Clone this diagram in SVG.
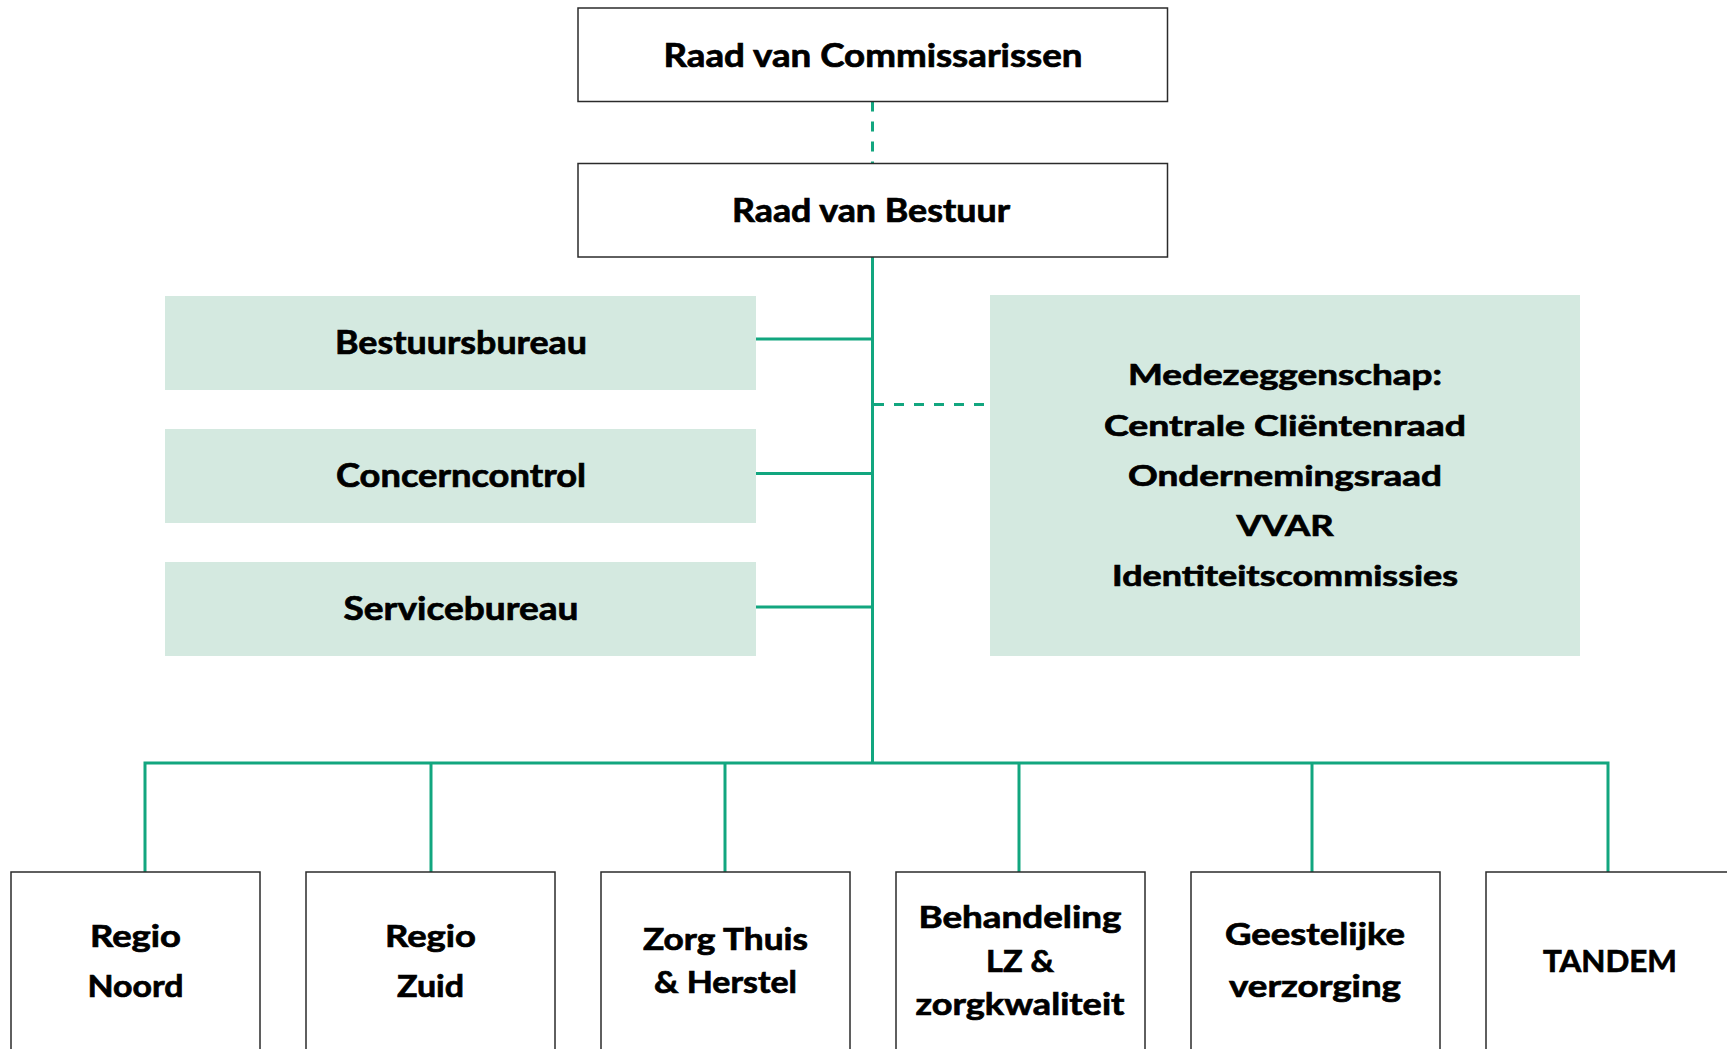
<svg xmlns="http://www.w3.org/2000/svg" width="1727" height="1049" viewBox="0 0 1727 1049">
<style>
.bx{fill:#ffffff;stroke:#2b2b2b;stroke-width:1.5}
.gb{fill:#d4e9e0}
.t{font-family:Lato,"Liberation Sans",sans-serif;font-weight:700;fill:#000;stroke:#000;stroke-width:0.7;text-anchor:middle}
.ln{stroke:#12a67f;stroke-width:3;fill:none}
.ds{stroke:#12a67f;stroke-width:3;fill:none;stroke-dasharray:10 10}
</style>
<rect width="1727" height="1049" fill="#ffffff"/>
<g id="connectors">
<line class="ds" x1="872.5" y1="101.5" x2="872.5" y2="163"/>
<line class="ln" x1="872.5" y1="257" x2="872.5" y2="763"/>
<line class="ln" x1="756" y1="339" x2="872.5" y2="339"/>
<line class="ln" x1="756" y1="473.5" x2="872.5" y2="473.5"/>
<line class="ln" x1="756" y1="607" x2="872.5" y2="607"/>
<line class="ds" x1="874" y1="404.5" x2="990" y2="404.5"/>
<polyline class="ln" points="145,872 145,763 1608,763 1608,872"/>
<line class="ln" x1="431" y1="763" x2="431" y2="872"/>
<line class="ln" x1="725" y1="763" x2="725" y2="872"/>
<line class="ln" x1="1019" y1="763" x2="1019" y2="872"/>
<line class="ln" x1="1312" y1="763" x2="1312" y2="872"/>
</g>
<g id="raad-van-commissarissen">
<rect class="bx" x="578" y="8" width="589.5" height="93.5"/>
<text class="t" x="873" y="67" font-size="32.5" textLength="419" lengthAdjust="spacingAndGlyphs">Raad van Commissarissen</text>
</g>
<g id="raad-van-bestuur">
<rect class="bx" x="578" y="163.5" width="589.5" height="93.5"/>
<text class="t" x="871" y="222" font-size="32.5" textLength="278" lengthAdjust="spacingAndGlyphs">Raad van Bestuur</text>
</g>
<g id="bestuursbureau">
<rect class="gb" x="165" y="296" width="591" height="94"/>
<text class="t" x="461" y="354" font-size="33" textLength="252" lengthAdjust="spacingAndGlyphs">Bestuursbureau</text>
</g>
<g id="concerncontrol">
<rect class="gb" x="165" y="429" width="591" height="94"/>
<text class="t" x="461" y="487" font-size="33" textLength="250" lengthAdjust="spacingAndGlyphs">Concerncontrol</text>
</g>
<g id="servicebureau">
<rect class="gb" x="165" y="562" width="591" height="94"/>
<text class="t" x="461" y="620" font-size="33" textLength="235" lengthAdjust="spacingAndGlyphs">Servicebureau</text>
</g>
<g id="medezeggenschap">
<rect class="gb" x="990" y="295" width="590" height="361"/>
<text class="t" x="1285" y="385" font-size="29" textLength="314" lengthAdjust="spacingAndGlyphs">Medezeggenschap:</text>
<text class="t" x="1285" y="436" font-size="29" textLength="362" lengthAdjust="spacingAndGlyphs">Centrale Cliëntenraad</text>
<text class="t" x="1285" y="486" font-size="29" textLength="314" lengthAdjust="spacingAndGlyphs">Ondernemingsraad</text>
<text class="t" x="1285" y="536" font-size="29" textLength="97" lengthAdjust="spacingAndGlyphs">VVAR</text>
<text class="t" x="1285" y="586" font-size="29" textLength="346" lengthAdjust="spacingAndGlyphs">Identiteitscommissies</text>
</g>
<g id="regio-noord">
<rect class="bx" x="11" y="872" width="249" height="200"/>
<text class="t" x="135.5" y="947" font-size="31" textLength="91" lengthAdjust="spacingAndGlyphs">Regio</text>
<text class="t" x="135.5" y="997" font-size="31" textLength="96" lengthAdjust="spacingAndGlyphs">Noord</text>
</g>
<g id="regio-zuid">
<rect class="bx" x="306" y="872" width="249" height="200"/>
<text class="t" x="430.5" y="947" font-size="31" textLength="91" lengthAdjust="spacingAndGlyphs">Regio</text>
<text class="t" x="430.5" y="997" font-size="31" textLength="67" lengthAdjust="spacingAndGlyphs">Zuid</text>
</g>
<g id="zorg-thuis-herstel">
<rect class="bx" x="601" y="872" width="249" height="200"/>
<text class="t" x="725.5" y="950" font-size="31" textLength="165" lengthAdjust="spacingAndGlyphs">Zorg Thuis</text>
<text class="t" x="725.5" y="993" font-size="31" textLength="143" lengthAdjust="spacingAndGlyphs">&amp; Herstel</text>
</g>
<g id="behandeling-lz-zorgkwaliteit">
<rect class="bx" x="896" y="872" width="249" height="200"/>
<text class="t" x="1020" y="928" font-size="31" textLength="203" lengthAdjust="spacingAndGlyphs">Behandeling</text>
<text class="t" x="1020" y="972" font-size="31" textLength="68" lengthAdjust="spacingAndGlyphs">LZ &amp;</text>
<text class="t" x="1020" y="1015" font-size="31" textLength="209" lengthAdjust="spacingAndGlyphs">zorgkwaliteit</text>
</g>
<g id="geestelijke-verzorging">
<rect class="bx" x="1191" y="872" width="249" height="200"/>
<text class="t" x="1315" y="945" font-size="31" textLength="180" lengthAdjust="spacingAndGlyphs">Geestelijke</text>
<text class="t" x="1315" y="997" font-size="31" textLength="172" lengthAdjust="spacingAndGlyphs">verzorging</text>
</g>
<g id="tandem">
<rect class="bx" x="1486" y="872" width="249" height="200"/>
<text class="t" x="1610" y="972" font-size="31" textLength="134" lengthAdjust="spacingAndGlyphs">TANDEM</text>
</g>
</svg>
